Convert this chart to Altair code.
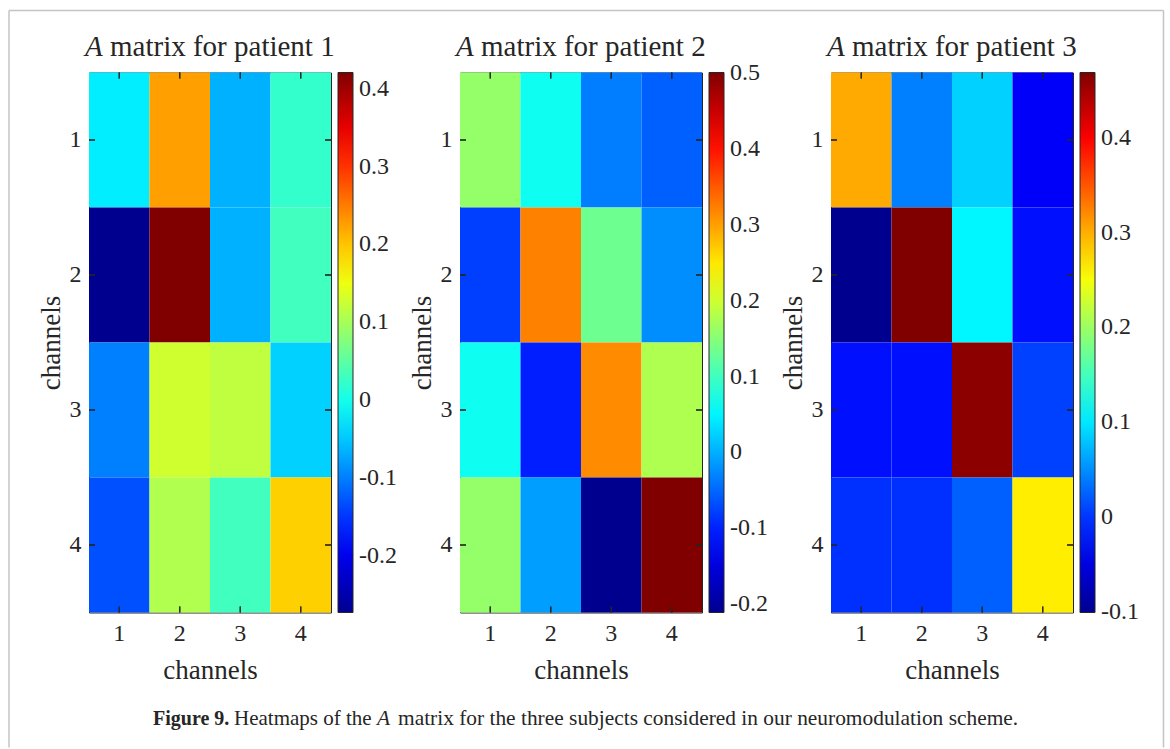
import altair as alt
import pandas as pd

# ---------------- data ----------------
channels = [1, 2, 3, 4]

patient_1 = [
    [-0.024, 0.226, -0.066, 0.022],
    [-0.273, 0.421, -0.066, 0.031],
    [-0.099, 0.129, 0.118, -0.044],
    [-0.132, 0.108, 0.031, 0.193],
]
patient_2 = [
    [0.160, 0.066, -0.034, -0.056],
    [-0.078, 0.322, 0.133, -0.023],
    [0.066, -0.101, 0.315, 0.178],
    [0.160, -0.011, -0.211, 0.501],
]
patient_3 = [
    [0.303, 0.042, 0.087, -0.033],
    [-0.101, 0.469, 0.108, -0.021],
    [-0.021, -0.021, 0.462, 0.006],
    [-0.003, -0.003, 0.024, 0.265],
]

cbar_range_1 = [-0.273, 0.421]
cbar_range_2 = [-0.211, 0.501]
cbar_range_3 = [-0.101, 0.469]

cbar_ticks_1 = [-0.2, -0.1, 0, 0.1, 0.2, 0.3, 0.4]
cbar_ticks_2 = [-0.2, -0.1, 0, 0.1, 0.2, 0.3, 0.4, 0.5]
cbar_ticks_3 = [-0.1, 0, 0.1, 0.2, 0.3, 0.4]

titles = ["matrix for patient 1", "matrix for patient 2", "matrix for patient 3"]
caption_bold = "Figure 9."
caption_1 = "Heatmaps of the"
caption_it = "A"
caption_2 = "matrix for the three subjects considered in our neuromodulation scheme."

# jet colormap stops
JET_T = [0, 0.125, 0.375, 0.625, 0.875, 1]
JET_C = ["#00008f", "#0000ff", "#00ffff", "#ffff00", "#ff0000", "#800000"]

FONT = "Liberation Serif"
INK = "#262626"
W, H = 242, 540


def to_df(matrix):
    recs = []
    for i, r in enumerate(channels):
        for j, c in enumerate(channels):
            recs.append({"row": r, "col": c, "value": matrix[i][j]})
    return pd.DataFrame(recs)


def text_layer(s, x, y, size, style="normal", weight="normal", font=FONT, color=INK):
    return alt.Chart(pd.DataFrame({"t": [s]})).mark_text(
        align="left", baseline="alphabetic", font=font, fontSize=size,
        fontStyle=style, fontWeight=weight, color=color
    ).encode(text="t:N", x=alt.value(x), y=alt.value(y))


def panel(matrix, vrange, ticks, title):
    df = to_df(matrix)
    vmin, vmax = vrange
    domain = [vmin + t * (vmax - vmin) for t in JET_T]
    base = alt.Chart(df)
    xenc = alt.X("col:O", title="channels",
                 scale=alt.Scale(paddingInner=0, paddingOuter=0),
                 axis=alt.Axis(labelAngle=0, ticks=False, tickSize=0, domain=False,
                               labelPadding=9, titlePadding=12,
                               labelFont=FONT, labelFontSize=24, labelColor=INK,
                               titleFont=FONT, titleFontSize=27, titleFontWeight="normal",
                               titleColor=INK, grid=False))
    yenc = alt.Y("row:O", title="channels",
                 scale=alt.Scale(paddingInner=0, paddingOuter=0),
                 axis=alt.Axis(ticks=False, tickSize=0, domain=False,
                               labelPadding=8, titlePadding=4,
                               labelFont=FONT, labelFontSize=24, labelColor=INK,
                               titleFont=FONT, titleFontSize=27, titleFontWeight="normal",
                               titleColor=INK, grid=False))
    heat = base.mark_rect().encode(
        x=xenc, y=yenc,
        color=alt.Color(
            "value:Q",
            scale=alt.Scale(domain=domain, range=JET_C, interpolate="rgb"),
            legend=alt.Legend(
                title=None, orient="none", legendX=W + 7, legendY=0,
                direction="vertical", gradientLength=H, gradientThickness=15,
                gradientStrokeColor=INK, gradientStrokeWidth=1,
                values=ticks, labelFont=FONT, labelFontSize=24, labelColor=INK,
                labelOffset=6, labelBaseline="middle", labelOverlap=False,
                labelExpr="replace(format(datum.value, '.1~f'), '\u2212', '-')",
                padding=0,
            ),
        ),
    )
    tk = dict(color=INK, thickness=1, size=6)
    t_bottom = base.mark_tick(orient="vertical", **tk).encode(x="col:O", y=alt.value(H - 3))
    t_top = base.mark_tick(orient="vertical", **tk).encode(x="col:O", y=alt.value(3))
    t_left = base.mark_tick(orient="horizontal", **tk).encode(y="row:O", x=alt.value(3))
    t_right = base.mark_tick(orient="horizontal", **tk).encode(y="row:O", x=alt.value(W - 3))
    ttl_a = text_layer("A", -4, -17, 29, style="italic")
    ttl_b = text_layer(title, 21, -17, 29)
    return [heat, t_bottom, t_top, t_left, t_right, ttl_a, ttl_b]


layers1 = panel(patient_1, cbar_range_1, cbar_ticks_1, titles[0])
layers2 = panel(patient_2, cbar_range_2, cbar_ticks_2, titles[1])
layers3 = panel(patient_3, cbar_range_3, cbar_ticks_3, titles[2])

# caption and frame, positioned relative to panel 1's plot area
CAP_Y = 652
cap = [
    text_layer(caption_bold, 64, CAP_Y, 20, weight="bold"),
    text_layer(caption_1, 145, CAP_Y, 21),
    text_layer(caption_it, 288, CAP_Y, 21.4, style="italic"),
    text_layer(caption_2, 309, CAP_Y, 21.4),
]
one = alt.Chart(pd.DataFrame({"k": [0]}))
FR = dict(color="#c4c4c4", strokeWidth=1.5)
frame = [
    one.mark_rule(**FR).encode(x=alt.value(-80), y=alt.value(-62), y2=alt.value(675)),
    one.mark_rule(**FR).encode(x=alt.value(1074.5), y=alt.value(-62), y2=alt.value(675)),
    one.mark_rule(**FR).encode(x=alt.value(-80), x2=alt.value(1074.5), y=alt.value(-62)),
]

p1 = alt.layer(*(frame + layers1 + cap)).properties(width=W, height=H)
p2 = alt.layer(*layers2).properties(width=W, height=H)
p3 = alt.layer(*layers3).properties(width=W, height=H)

chart = (
    alt.hconcat(p1, p2, p3, spacing=129, bounds="flush")
    .resolve_scale(color="independent")
    .properties(padding={"left": 7, "top": 8.5, "right": 0, "bottom": 0},
                background="white")
    .configure_view(stroke=INK, strokeWidth=1)
)

chart.save("out.html", embed_options={"renderer": "svg", "actions": False})
